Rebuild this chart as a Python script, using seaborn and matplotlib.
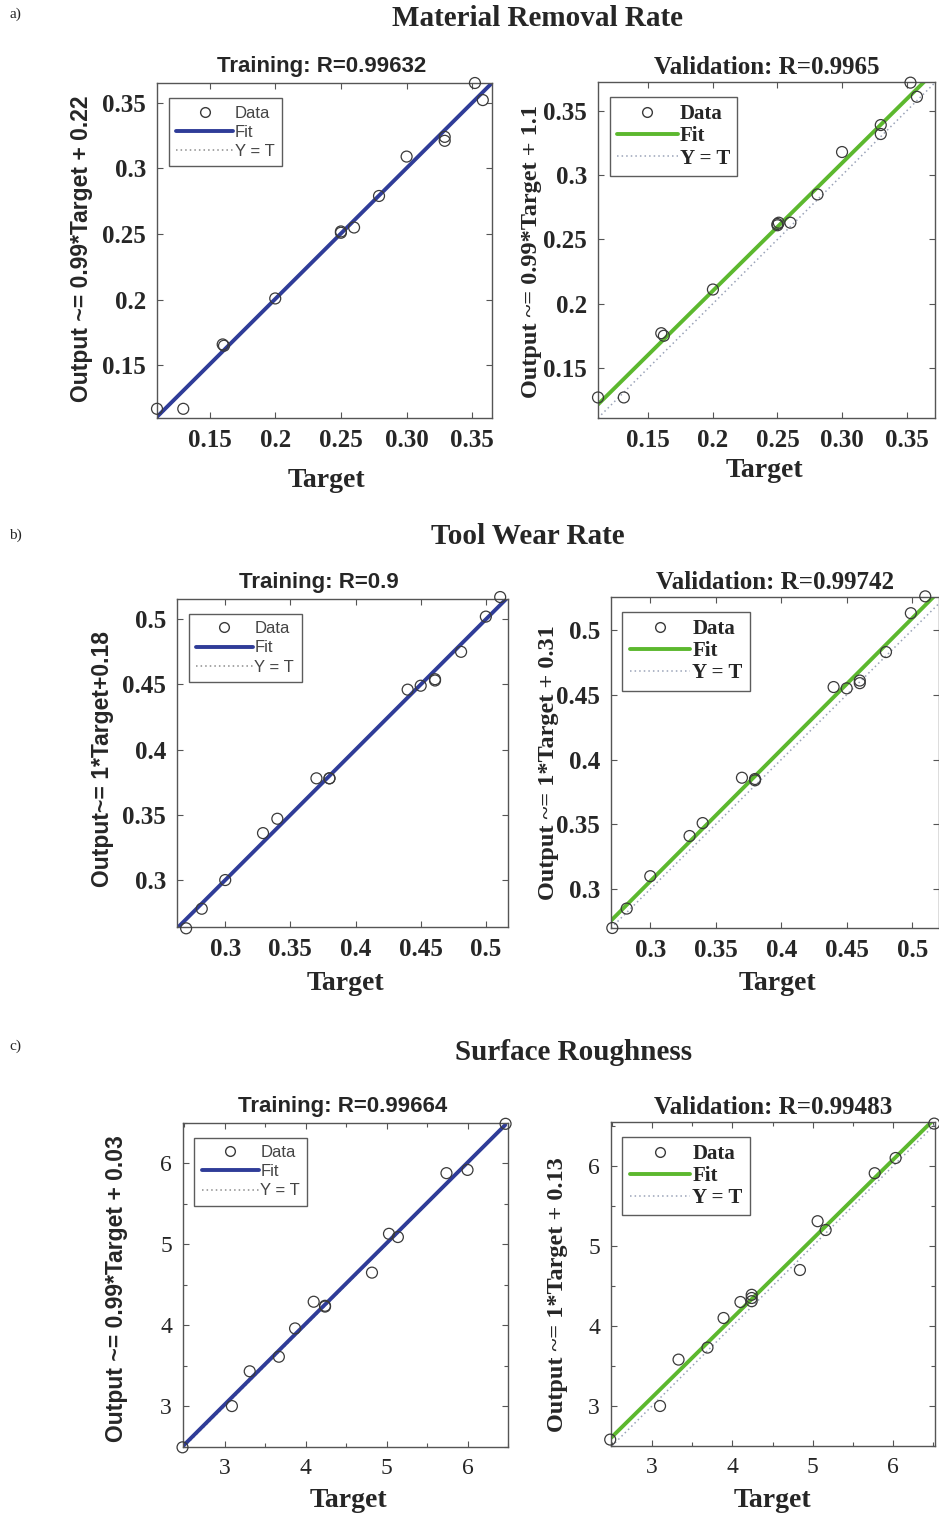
import numpy as np
import pandas as pd
import matplotlib.pyplot as plt
from matplotlib.lines import Line2D
import seaborn as sns

sns.set_style("ticks")
plt.rcParams['font.family'] = ['Liberation Serif', 'DejaVu Serif']

# ---- data ----
mrr_train_target = [0.110, 0.130, 0.160, 0.161, 0.200, 0.250, 0.250, 0.260, 0.279, 0.300, 0.329, 0.329, 0.352, 0.358]
mrr_train_output = [0.117, 0.117, 0.166, 0.165, 0.201, 0.251, 0.252, 0.255, 0.279, 0.309, 0.324, 0.321, 0.365, 0.352]
mrr_val_target = [0.111, 0.131, 0.160, 0.162, 0.200, 0.250, 0.250, 0.251, 0.260, 0.281, 0.300, 0.330, 0.330, 0.353, 0.358]
mrr_val_output = [0.127, 0.127, 0.177, 0.175, 0.211, 0.262, 0.261, 0.263, 0.263, 0.285, 0.318, 0.339, 0.332, 0.372, 0.361]

twr_train_target = [0.270, 0.282, 0.300, 0.329, 0.340, 0.370, 0.380, 0.380, 0.440, 0.450, 0.461, 0.461, 0.481, 0.500, 0.511]
twr_train_output = [0.263, 0.278, 0.300, 0.336, 0.347, 0.378, 0.378, 0.378, 0.446, 0.449, 0.453, 0.454, 0.475, 0.502, 0.517]
twr_val_target = [0.271, 0.282, 0.300, 0.330, 0.340, 0.370, 0.380, 0.380, 0.440, 0.450, 0.460, 0.460, 0.480, 0.499, 0.510]
twr_val_output = [0.270, 0.285, 0.310, 0.341, 0.351, 0.386, 0.385, 0.384, 0.456, 0.455, 0.461, 0.459, 0.483, 0.513, 0.526]

sr_train_target = [2.48, 3.09, 3.31, 3.67, 3.87, 4.10, 4.24, 4.24, 4.82, 5.03, 5.14, 5.74, 6.00, 6.47]
sr_train_output = [2.49, 3.00, 3.43, 3.61, 3.96, 4.29, 4.24, 4.23, 4.65, 5.13, 5.09, 5.88, 5.92, 6.49]
sr_val_target = [2.48, 3.10, 3.33, 3.69, 3.89, 4.10, 4.24, 4.24, 4.24, 4.84, 5.06, 5.16, 5.77, 6.03, 6.51]
sr_val_output = [2.58, 3.00, 3.58, 3.73, 4.10, 4.30, 4.39, 4.35, 4.31, 4.70, 5.31, 5.20, 5.91, 6.10, 6.53]

section_titles = ['Material Removal Rate', 'Tool Wear Rate', 'Surface Roughness']
section_tags = ['a)', 'b)', 'c)']
panel_titles = ['Training: R=0.99632', 'Validation: R=0.9965',
                'Training: R=0.9', 'Validation: R=0.99742',
                'Training: R=0.99664', 'Validation: R=0.99483']
y_labels = ['Output ~= 0.99*Target + 0.22', 'Output ~= 0.99*Target + 1.1',
            'Output~= 1*Target+0.18', 'Output ~= 1*Target + 0.31',
            'Output ~= 0.99*Target + 0.03', 'Output ~= 1*Target + 0.13']
tick_vals = [[0.15, 0.2, 0.25, 0.30, 0.35], [0.3, 0.35, 0.4, 0.45, 0.5], [3, 4, 5, 6]]
x_tick_labels = [['0.15', '0.2', '0.25', '0.30', '0.35'], ['0.3', '0.35', '0.4', '0.45', '0.5'], ['3', '4', '5', '6']]
y_tick_labels = [['0.15', '0.2', '0.25', '0.3', '0.35'], ['0.3', '0.35', '0.4', '0.45', '0.5'], ['3', '4', '5', '6']]

panels = [
    (mrr_train_target, mrr_train_output), (mrr_val_target, mrr_val_output),
    (twr_train_target, twr_train_output), (twr_val_target, twr_val_output),
    (sr_train_target, sr_train_output), (sr_val_target, sr_val_output),
]

# ---- layout (pixels in the 939x1513 canvas) ----
W, H = 939, 1513
boxes_px = [(157, 83, 492, 418), (598, 82, 935, 418),
            (177, 599, 508, 927), (611, 597, 939, 928),
            (183, 1123, 508, 1447), (611, 1122, 935, 1446)]
limits = [((0.110, 0.365), (0.110, 0.365)), ((0.111, 0.372), (0.111, 0.3725)),
          ((0.263, 0.517), (0.264, 0.5155)), ((0.270, 0.5205), (0.270, 0.5255)),
          ((2.486, 6.465), (2.494, 6.49)), ((2.49, 6.52), (2.50, 6.55))]
xlabel_px = [(326, 480), (764, 470), (345, 983), (777, 983), (348, 1500), (772, 1500)]
ylabel_px = [(82, 249), (531, 251), (103, 759), (548, 763), (117, 1289), (557, 1295)]
title_x = [0.49, 0.50, 0.43, 0.50, 0.49, 0.50]
fit_colors = ['#2f3c98', '#5cb82e']
yt_colors = ['#8c8c8c', '#9aa3b8']
SANS = ['Liberation Sans', 'DejaVu Sans']

fig = plt.figure(figsize=(W / 100, H / 100), dpi=100)

for i, (tgt, out) in enumerate(panels):
    l, t, r, b = boxes_px[i]
    ax = fig.add_axes([l / W, 1 - b / H, (r - l) / W, (b - t) / H])
    train = i % 2 == 0
    row = i // 2
    xl, yl = limits[i]
    fc = fit_colors[0 if train else 1]
    yc = yt_colors[0 if train else 1]
    df = pd.DataFrame({'Target': tgt, 'Output': out})
    ax.set_xlim(xl)
    ax.set_ylim(yl)

    # Y = T reference line
    ax.axline((0, 0), slope=1, color=yc, lw=1.1, ls=(0, (1, 2)), zorder=1)
    # fitted line
    sns.regplot(data=df, x='Target', y='Output', scatter=False, ci=None, truncate=False,
                ax=ax, line_kws=dict(color=fc, lw=2.8, zorder=2))
    sns.scatterplot(data=df, x='Target', y='Output', ax=ax, s=62, marker='o',
                    facecolor='none', edgecolor='#3a3a3a', linewidth=0.9, zorder=3,
                    clip_on=False)
    ax.set_xlim(xl)
    ax.set_ylim(yl)

    ax.set_xticks(tick_vals[row], x_tick_labels[row])
    ax.set_yticks(tick_vals[row], y_tick_labels[row])
    if row == 2:
        ax.set_xticks(np.arange(2.5, 6.6, 0.5), minor=True)
        ax.set_yticks(np.arange(2.5, 6.6, 0.5), minor=True)
    ax.tick_params(which='both', direction='in', top=True, right=True, length=4,
                   color='#555555', width=0.8)
    ax.tick_params(which='minor', length=3)
    ax.tick_params(axis='both', labelsize=17 if row == 2 else 18, pad=8)
    for lab in ax.get_xticklabels() + ax.get_yticklabels():
        lab.set_fontweight('normal' if row == 2 else 'bold')
    for sp in ax.spines.values():
        sp.set_color('#555555')
        sp.set_linewidth(1.0)

    if train:
        ax.set_title(panel_titles[i], x=title_x[i], pad=8, fontsize=16, fontweight='bold',
                     family=SANS)
        ax.set_ylabel(y_labels[i], fontsize=16.5, fontweight='bold', family=SANS)
    else:
        ax.set_title(panel_titles[i], x=title_x[i], pad=6, fontsize=18, fontweight='bold')
        ax.set_ylabel(y_labels[i], fontsize=17.5, fontweight='bold')
    ax.set_xlabel('Target', fontsize=20, fontweight='bold')

    # place axis labels where they sit in the reference
    lx, ly = xlabel_px[i]
    ax.xaxis.set_label_coords((lx - l) / (r - l), (b - (ly - 12)) / (b - t))
    yx, yy = ylabel_px[i]
    ax.yaxis.set_label_coords((yx + 11 - l) / (r - l), (b - yy) / (b - t))

    handles = [
        Line2D([], [], marker='o', ls='none', mfc='none', mec='#3a3a3a', ms=7),
        Line2D([], [], color=fc, lw=2.8),
        Line2D([], [], color=yc, lw=1.1, ls=(0, (1, 2))),
    ]
    if train:
        leg_font = dict(family=SANS, size=12)
    else:
        leg_font = dict(family=['Liberation Serif', 'DejaVu Serif'], size=15, weight='bold')
    leg = ax.legend(handles, ['Data', 'Fit', 'Y = T'], loc='upper left',
                    bbox_to_anchor=(0.035, 0.955), borderaxespad=0, prop=leg_font,
                    handlelength=3.4 if train else 2.9, handletextpad=0.1,
                    labelspacing=0.25 if train else 0.1,
                    borderpad=0.45 if train else 0.35, frameon=True, fancybox=False)
    leg.get_frame().set_edgecolor('#333333')
    leg.get_frame().set_linewidth(1.0)
    if train:
        for txt in leg.get_texts():
            txt.set_color('#444444')

# section headings and tags
head_pos = [(537, 18), (528, 536), (574, 1053)]
tag_pos = [(15, 14), (15, 535), (15, 1046)]
for k in range(3):
    hx, hy = head_pos[k]
    fig.text(hx / W, 1 - hy / H, section_titles[k], ha='center', va='center',
             fontsize=21, fontweight='bold')
    tx, ty = tag_pos[k]
    fig.text(tx / W, 1 - ty / H, section_tags[k], ha='center', va='center', fontsize=11)

fig.savefig('out.png', dpi=100)
